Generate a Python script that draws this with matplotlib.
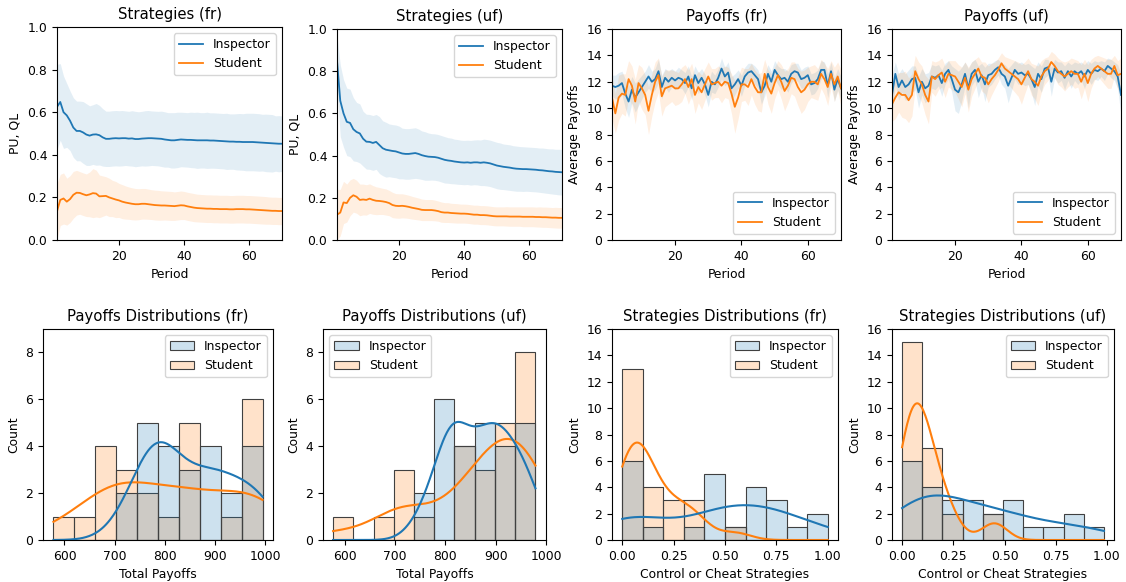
import numpy as np
import pandas as pd
import matplotlib
matplotlib.use("Agg")
import matplotlib.pyplot as plt
import seaborn as sns

plt.rcParams['font.size'] = 8.9
plt.rcParams['axes.titlesize'] = 10.7
plt.rcParams['legend.fontsize'] = 8.9

periods = np.arange(1, 71)

# ---- strategies (mean and half width of band) ----
strat_fr_insp = [0.625, 0.648, 0.600, 0.585, 0.560, 0.528, 0.512, 0.512, 0.505, 0.495,
                 0.490, 0.495, 0.496, 0.492, 0.482, 0.475, 0.475, 0.477, 0.478, 0.477,
                 0.478, 0.478, 0.476, 0.477, 0.474, 0.474, 0.476, 0.477, 0.478, 0.478,
                 0.477, 0.476, 0.475, 0.472, 0.470, 0.468, 0.468, 0.470, 0.472, 0.471,
                 0.470, 0.470, 0.469, 0.468, 0.468, 0.468, 0.468, 0.467, 0.467, 0.466,
                 0.465, 0.464, 0.463, 0.462, 0.462, 0.461, 0.461, 0.460, 0.460, 0.460,
                 0.460, 0.459, 0.458, 0.457, 0.456, 0.455, 0.454, 0.453, 0.452, 0.452]
strat_fr_insp_ci = [0.20, 0.18, 0.17, 0.15, 0.14, 0.14, 0.14, 0.14, 0.145, 0.145,
                    0.14, 0.14, 0.145, 0.14, 0.135, 0.13, 0.13, 0.13, 0.13, 0.13,
                    0.13, 0.128, 0.128, 0.13, 0.13, 0.128, 0.128, 0.13, 0.13, 0.128,
                    0.128, 0.128, 0.13, 0.13, 0.128, 0.13, 0.13, 0.13, 0.128, 0.128,
                    0.128, 0.13, 0.13, 0.132, 0.13, 0.13, 0.132, 0.13, 0.13, 0.13,
                    0.13, 0.13, 0.132, 0.13, 0.13, 0.132, 0.133, 0.133, 0.135, 0.135,
                    0.135, 0.135, 0.135, 0.133, 0.135, 0.135, 0.135, 0.13, 0.132, 0.13]
strat_fr_stud = [0.135, 0.188, 0.195, 0.180, 0.192, 0.212, 0.222, 0.221, 0.215, 0.210,
                 0.214, 0.220, 0.218, 0.205, 0.206, 0.207, 0.200, 0.195, 0.190, 0.186,
                 0.180, 0.176, 0.173, 0.170, 0.168, 0.168, 0.170, 0.170, 0.168, 0.166,
                 0.164, 0.163, 0.162, 0.162, 0.161, 0.160, 0.159, 0.161, 0.163, 0.162,
                 0.158, 0.155, 0.152, 0.150, 0.149, 0.148, 0.147, 0.147, 0.146, 0.146,
                 0.145, 0.145, 0.145, 0.144, 0.144, 0.145, 0.145, 0.145, 0.144, 0.144,
                 0.143, 0.142, 0.141, 0.140, 0.139, 0.138, 0.137, 0.137, 0.136, 0.136]
strat_fr_stud_ci = [0.13, 0.12, 0.12, 0.11, 0.11, 0.11, 0.105, 0.10, 0.10, 0.10,
                    0.105, 0.115, 0.11, 0.10, 0.095, 0.09, 0.09, 0.085, 0.085, 0.08,
                    0.08, 0.078, 0.076, 0.075, 0.074, 0.073, 0.072, 0.072, 0.071, 0.07,
                    0.07, 0.07, 0.069, 0.068, 0.068, 0.068, 0.067, 0.067, 0.067, 0.066,
                    0.066, 0.066, 0.066, 0.065, 0.065, 0.065, 0.065, 0.065, 0.065, 0.065,
                    0.065, 0.065, 0.065, 0.065, 0.065, 0.065, 0.065, 0.065, 0.065, 0.065,
                    0.065, 0.065, 0.065, 0.065, 0.065, 0.064, 0.064, 0.064, 0.064, 0.064]
strat_uf_insp = [0.850, 0.660, 0.600, 0.560, 0.555, 0.525, 0.512, 0.505, 0.480, 0.466,
                 0.465, 0.460, 0.465, 0.450, 0.435, 0.428, 0.425, 0.422, 0.420, 0.415,
                 0.410, 0.408, 0.408, 0.410, 0.412, 0.408, 0.402, 0.398, 0.395, 0.394,
                 0.393, 0.390, 0.385, 0.380, 0.377, 0.375, 0.372, 0.370, 0.368, 0.367,
                 0.368, 0.366, 0.368, 0.368, 0.366, 0.368, 0.366, 0.363, 0.358, 0.353,
                 0.350, 0.347, 0.345, 0.343, 0.340, 0.338, 0.337, 0.336, 0.336, 0.335,
                 0.334, 0.333, 0.331, 0.330, 0.328, 0.326, 0.325, 0.323, 0.322, 0.321]
strat_uf_insp_ci = [0.12, 0.17, 0.16, 0.16, 0.16, 0.15, 0.14, 0.14, 0.13, 0.13,
                    0.13, 0.13, 0.13, 0.135, 0.13, 0.13, 0.125, 0.125, 0.125, 0.125,
                    0.12, 0.12, 0.12, 0.12, 0.12, 0.118, 0.115, 0.115, 0.112, 0.11,
                    0.11, 0.11, 0.11, 0.11, 0.108, 0.108, 0.106, 0.106, 0.105, 0.105,
                    0.105, 0.106, 0.106, 0.107, 0.108, 0.11, 0.11, 0.11, 0.11, 0.11,
                    0.11, 0.108, 0.108, 0.108, 0.107, 0.107, 0.106, 0.106, 0.105, 0.105,
                    0.105, 0.105, 0.105, 0.106, 0.106, 0.106, 0.107, 0.107, 0.108, 0.108]
strat_uf_stud = [0.120, 0.130, 0.178, 0.175, 0.200, 0.212, 0.205, 0.190, 0.192, 0.190,
                 0.196, 0.190, 0.186, 0.185, 0.183, 0.180, 0.175, 0.166, 0.162, 0.161,
                 0.162, 0.160, 0.157, 0.153, 0.150, 0.147, 0.143, 0.142, 0.142, 0.142,
                 0.140, 0.137, 0.132, 0.130, 0.130, 0.128, 0.127, 0.126, 0.125, 0.125,
                 0.124, 0.122, 0.120, 0.120, 0.118, 0.118, 0.117, 0.115, 0.113, 0.112,
                 0.112, 0.112, 0.112, 0.111, 0.111, 0.111, 0.111, 0.110, 0.110, 0.110,
                 0.110, 0.109, 0.109, 0.108, 0.108, 0.107, 0.106, 0.106, 0.105, 0.105]
strat_uf_stud_ci = [0.12, 0.11, 0.10, 0.09, 0.085, 0.08, 0.078, 0.075, 0.073, 0.072,
                    0.07, 0.068, 0.066, 0.064, 0.062, 0.062, 0.06, 0.06, 0.058, 0.058,
                    0.057, 0.056, 0.055, 0.054, 0.053, 0.052, 0.051, 0.05, 0.05, 0.05,
                    0.049, 0.048, 0.048, 0.047, 0.047, 0.046, 0.046, 0.046, 0.045, 0.045,
                    0.045, 0.045, 0.045, 0.045, 0.045, 0.045, 0.045, 0.045, 0.045, 0.045,
                    0.045, 0.045, 0.046, 0.046, 0.046, 0.046, 0.046, 0.047, 0.047, 0.047,
                    0.047, 0.047, 0.048, 0.048, 0.048, 0.048, 0.048, 0.049, 0.049, 0.049]

# ---- average payoffs per period ----
pay_fr_insp = [11.7, 11.6, 11.7, 11.9, 11.1, 10.5, 11.4, 10.8, 11.2, 11.6,
               12.0, 12.4, 12.0, 12.2, 12.8, 11.6, 12.3, 12.0, 12.3, 12.1,
               12.3, 12.2, 11.9, 12.4, 11.5, 12.5, 11.9, 12.3, 11.8, 11.0,
               12.0, 11.8, 12.3, 13.0, 12.4, 12.7, 11.5, 11.8, 12.2, 11.7,
               12.4, 12.7, 12.8, 12.5, 12.2, 11.2, 11.7, 12.6, 12.0, 12.9,
               12.5, 12.2, 12.3, 12.0, 12.6, 12.8, 12.7, 12.2, 12.3, 12.5,
               11.8, 11.9, 12.2, 12.9, 12.9, 11.7, 12.8, 11.4, 12.2, 11.5]
pay_fr_insp_ci = [0.8, 0.9, 1.0, 0.9, 1.1, 1.2, 1.0, 1.1, 1.0, 0.9,
                  0.8, 0.9, 0.8, 0.8, 0.9, 0.9, 0.7, 0.8, 0.7, 0.7,
                  0.8, 0.7, 0.8, 0.8, 0.9, 0.7, 0.8, 0.7, 0.8, 0.9,
                  0.8, 0.7, 0.7, 0.8, 0.7, 0.8, 0.9, 0.8, 0.7, 0.8,
                  0.7, 0.7, 0.6, 0.7, 0.7, 0.9, 0.8, 0.7, 0.8, 0.7,
                  0.7, 0.8, 0.7, 0.8, 0.7, 0.6, 0.7, 0.7, 0.8, 0.7,
                  0.8, 0.8, 0.7, 0.7, 0.6, 0.9, 0.7, 0.9, 0.8, 0.9]
pay_fr_stud = [10.8, 9.6, 10.8, 11.1, 11.0, 12.2, 11.7, 10.5, 11.9, 11.5,
               11.0, 9.8, 11.0, 12.0, 12.5, 10.9, 11.5, 11.6, 11.7, 11.5,
               11.5, 11.8, 12.2, 11.6, 12.2, 11.0, 11.6, 11.2, 11.8, 12.4,
               11.8, 11.9, 12.0, 11.7, 12.0, 11.9, 11.1, 10.1, 10.8, 11.8,
               11.8, 11.6, 12.2, 11.6, 11.2, 11.2, 12.6, 11.6, 11.1, 11.9,
               12.5, 12.0, 11.3, 11.7, 12.3, 12.2, 11.6, 11.2, 11.4, 11.8,
               12.0, 12.0, 11.8, 12.6, 12.2, 11.6, 12.6, 11.8, 12.4, 11.5]
pay_fr_stud_ci = [1.6, 1.5, 1.7, 1.5, 1.6, 1.4, 1.5, 1.7, 1.4, 1.6,
                  1.5, 1.8, 1.6, 1.5, 1.3, 1.5, 1.4, 1.3, 1.2, 1.3,
                  1.2, 1.3, 1.1, 1.3, 1.2, 1.4, 1.2, 1.3, 1.2, 1.1,
                  1.2, 1.1, 1.2, 1.3, 1.2, 1.2, 1.5, 2.0, 1.6, 1.3,
                  1.2, 1.4, 1.2, 1.3, 1.4, 1.5, 1.1, 1.3, 1.5, 1.2,
                  1.1, 1.3, 1.5, 1.3, 1.2, 1.3, 1.4, 1.6, 1.5, 1.3,
                  1.2, 1.3, 1.2, 1.1, 1.2, 1.4, 1.0, 1.3, 1.1, 1.4]
pay_uf_insp = [11.0, 12.6, 11.6, 12.1, 11.6, 11.8, 12.2, 12.3, 11.2, 12.0,
               11.5, 11.7, 12.4, 12.3, 12.5, 11.9, 12.6, 12.9, 12.2, 11.4,
               11.2, 11.8, 12.6, 11.5, 12.6, 12.9, 12.0, 12.5, 11.8, 12.5,
               12.6, 12.9, 13.1, 12.6, 12.4, 11.7, 12.3, 12.9, 12.6, 12.7,
               12.5, 12.6, 12.2, 11.6, 12.6, 12.2, 13.0, 13.1, 12.0, 13.0,
               12.7, 12.8, 12.3, 12.8, 12.4, 12.8, 12.6, 12.8, 12.4, 12.9,
               12.6, 12.9, 12.8, 13.0, 12.8, 13.2, 13.0, 12.8, 12.4, 11.0]
pay_uf_insp_ci = [1.5, 0.9, 1.0, 0.9, 1.0, 1.1, 1.0, 0.9, 1.2, 1.0,
                  1.1, 1.0, 0.9, 0.9, 0.8, 1.0, 0.8, 0.7, 1.0, 1.6,
                  1.6, 1.3, 0.9, 1.5, 0.9, 0.8, 1.2, 0.9, 1.3, 0.9,
                  0.8, 0.7, 0.6, 0.8, 0.9, 1.3, 1.0, 0.7, 0.8, 0.8,
                  0.8, 0.8, 1.0, 1.4, 0.9, 1.0, 0.7, 0.6, 1.1, 0.7,
                  0.8, 0.7, 0.9, 0.7, 0.9, 0.7, 0.8, 0.7, 0.9, 0.7,
                  0.8, 0.7, 0.7, 0.6, 0.7, 0.6, 0.7, 0.7, 0.9, 1.6]
pay_uf_stud = [10.3, 10.8, 11.2, 11.0, 11.0, 10.6, 11.0, 12.8, 12.2, 11.8,
               11.0, 10.5, 12.4, 12.2, 12.5, 12.7, 12.0, 12.6, 12.5, 12.4,
               12.0, 11.6, 12.3, 11.4, 12.2, 12.6, 13.0, 12.4, 12.3, 11.8,
               12.2, 12.5, 12.9, 13.4, 13.0, 12.8, 12.6, 12.4, 12.2, 11.8,
               12.3, 12.8, 12.2, 12.0, 11.7, 12.4, 12.8, 13.0, 13.5, 13.2,
               12.8, 12.6, 12.4, 12.6, 12.8, 12.6, 12.6, 12.0, 12.6, 11.9,
               12.6, 13.0, 13.2, 13.0, 12.8, 12.6, 12.6, 13.2, 12.5, 12.6]
pay_uf_stud_ci = [1.3, 1.6, 1.5, 1.7, 1.8, 1.7, 1.6, 1.2, 1.3, 1.4,
                  1.5, 1.7, 1.2, 1.3, 1.1, 1.1, 1.2, 1.0, 1.1, 1.2,
                  1.3, 1.5, 1.2, 1.7, 1.3, 1.1, 0.9, 1.1, 1.2, 1.4,
                  1.2, 1.0, 0.9, 0.8, 0.9, 1.0, 1.1, 1.2, 1.3, 1.5,
                  1.2, 1.0, 1.2, 1.3, 1.5, 1.2, 1.0, 0.9, 0.8, 0.9,
                  1.0, 1.0, 1.1, 1.0, 1.0, 1.1, 1.0, 1.3, 1.1, 1.4,
                  1.1, 0.9, 0.8, 0.9, 1.0, 1.1, 1.1, 0.8, 1.1, 1.2]

# ---- per-participant totals for the histograms ----
tot_fr_insp = [725, 740, 765, 775, 780, 783, 786, 788, 792, 796, 805, 835,
               850, 865, 880, 890, 900, 908, 925, 945, 965, 980, 990, 994]
tot_fr_stud = [578, 640, 668, 680, 690, 700, 712, 725, 740, 755, 775, 805,
               835, 845, 850, 858, 866, 930, 958, 966, 975, 982, 990, 995]
tot_uf_insp = [755, 770, 800, 806, 810, 813, 815, 817, 820, 822, 855, 857, 862,
               880, 885, 892, 897, 902, 908, 915, 925, 942, 948, 955, 965, 975]
tot_uf_stud = [577, 680, 705, 718, 730, 760, 828, 838, 846, 854, 868, 880, 892,
               903, 912, 920, 928, 935, 942, 946, 950, 955, 960, 965, 972, 979]

str_fr_insp = [0.0, 0.0, 0.02, 0.04, 0.06, 0.08, 0.15, 0.35, 0.42, 0.44, 0.46, 0.47,
               0.49, 0.55, 0.62, 0.64, 0.66, 0.68, 0.72, 0.75, 0.78, 0.85, 0.95, 1.0]
str_fr_stud = [0.0, 0.0, 0.01, 0.02, 0.03, 0.04, 0.05, 0.06, 0.07, 0.08, 0.09, 0.095,
               0.098, 0.12, 0.14, 0.16, 0.18, 0.22, 0.25, 0.28, 0.32, 0.35, 0.38, 0.55]
str_uf_insp = [0.0, 0.01, 0.03, 0.05, 0.07, 0.09, 0.11, 0.14, 0.16, 0.19, 0.21, 0.24, 0.27,
               0.31, 0.34, 0.37, 0.42, 0.46, 0.51, 0.54, 0.57, 0.64, 0.74, 0.82, 0.86, 0.985]
str_uf_stud = [0.0, 0.0, 0.01, 0.02, 0.02, 0.03, 0.04, 0.05, 0.06, 0.07, 0.08, 0.08, 0.09,
               0.09, 0.095, 0.10, 0.11, 0.13, 0.14, 0.16, 0.17, 0.19, 0.22, 0.25, 0.44, 0.46]

W, H = 1126, 582
fig = plt.figure(figsize=(W / 100, H / 100), dpi=100)


def box(x0, y0, x1, y1):
    return fig.add_axes([x0 / W, 1 - y1 / H, (x1 - x0) / W, (y1 - y0) / H])


def lines(ax, insp, insp_ci, stud, stud_ci):
    for mean, ci, col, lab in [(insp, insp_ci, 'C0', 'Inspector'), (stud, stud_ci, 'C1', 'Student')]:
        mean = np.array(mean)
        ci = np.array(ci)
        ax.fill_between(periods, mean - ci, mean + ci, color=col, alpha=0.12, linewidth=0)
        ax.plot(periods, mean, color=col, lw=1.3, label=lab)
    ax.set_xlim(1, 70)
    ax.set_xticks([20, 40, 60])
    ax.set_xlabel('Period')


ax1 = box(57, 27, 282, 240)
lines(ax1, strat_fr_insp, strat_fr_insp_ci, strat_fr_stud, strat_fr_stud_ci)
ax1.set_ylim(0, 1)
ax1.set_ylabel('PU, QL')
ax1.set_title('Strategies (fr)')
ax1.legend(loc='upper right')

ax2 = box(337, 29, 562, 240)
lines(ax2, strat_uf_insp, strat_uf_insp_ci, strat_uf_stud, strat_uf_stud_ci)
ax2.set_ylim(0, 1)
ax2.set_ylabel('PU, QL')
ax2.set_title('Strategies (uf)')
ax2.legend(loc='upper right')

ax3 = box(612, 29, 841, 240)
lines(ax3, pay_fr_insp, pay_fr_insp_ci, pay_fr_stud, pay_fr_stud_ci)
ax3.set_ylim(0, 16)
ax3.set_yticks(range(0, 17, 2))
ax3.set_ylabel('Average Payoffs')
ax3.set_title('Payoffs (fr)')
ax3.legend(loc='lower right')

ax4 = box(892, 29, 1121, 240)
lines(ax4, pay_uf_insp, pay_uf_insp_ci, pay_uf_stud, pay_uf_stud_ci)
ax4.set_ylim(0, 16)
ax4.set_yticks(range(0, 17, 2))
ax4.set_ylabel('Average Payoffs')
ax4.set_title('Payoffs (uf)')
ax4.legend(loc='lower right')


def hist(ax, insp, stud, loc):
    df = pd.DataFrame({'v': insp + stud,
                       'who': ['Inspector'] * len(insp) + ['Student'] * len(stud)})
    sns.histplot(data=df, x='v', hue='who', bins=10, kde=True, ax=ax,
                 palette=['C0', 'C1'], alpha=0.22, edgecolor='0.25', linewidth=0.8,
                 line_kws={'lw': 1.5})
    sns.move_legend(ax, loc, title=None)
    ax.set_ylabel('Count')


ax5 = box(43, 329, 273, 540)
hist(ax5, tot_fr_insp, tot_fr_stud, 'upper right')
ax5.set_ylim(0, 9)
ax5.set_yticks([0, 2, 4, 6, 8])
ax5.set_xlabel('Total Payoffs')
ax5.set_title('Payoffs Distributions (fr)')

ax6 = box(323, 329, 546, 540)
hist(ax6, tot_uf_insp, tot_uf_stud, 'upper left')
ax6.set_ylim(0, 9)
ax6.set_yticks([0, 2, 4, 6, 8])
ax6.set_xlim(557, 1000)
ax6.set_xlabel('Total Payoffs')
ax6.set_title('Payoffs Distributions (uf)')

ax7 = box(612, 329, 838, 540)
hist(ax7, str_fr_insp, str_fr_stud, 'upper right')
ax7.set_ylim(0, 16)
ax7.set_yticks(range(0, 17, 2))
ax7.set_xticks([0, 0.25, 0.5, 0.75, 1.0])
ax7.set_xlabel('Control or Cheat Strategies')
ax7.set_title('Strategies Distributions (fr)')

ax8 = box(892, 329, 1114, 540)
hist(ax8, str_uf_insp, str_uf_stud, 'upper right')
ax8.set_ylim(0, 16)
ax8.set_yticks(range(0, 17, 2))
ax8.set_xticks([0, 0.25, 0.5, 0.75, 1.0])
ax8.set_xlabel('Control or Cheat Strategies')
ax8.set_title('Strategies Distributions (uf)')

fig.savefig('out.png', dpi=100)
